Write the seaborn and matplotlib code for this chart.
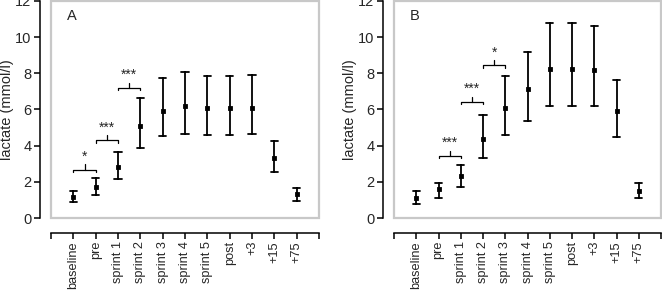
import numpy as np
import pandas as pd
import matplotlib
matplotlib.use('Agg')
import matplotlib.pyplot as plt
import seaborn as sns
from matplotlib.patches import Rectangle

sns.set_theme(style='white')
plt.rcParams['font.family'] = ['Liberation Sans', 'DejaVu Sans']

# --- data ---
timepoints = ['baseline', 'pre', 'sprint 1', 'sprint 2', 'sprint 3', 'sprint 4',
              'sprint 5', 'post', '+3', '+15', '+75']

a_mean = [1.17, 1.71, 2.84, 5.10, 5.91, 6.18, 6.06, 6.06, 6.11, 3.30, 1.30]
a_low = [0.88, 1.25, 2.13, 3.87, 4.55, 4.66, 4.60, 4.60, 4.66, 2.53, 0.95]
a_high = [1.52, 2.20, 3.67, 6.66, 7.72, 8.07, 7.85, 7.85, 7.93, 4.26, 1.67]

b_mean = [1.10, 1.58, 2.31, 4.37, 6.06, 7.12, 8.22, 8.22, 8.17, 5.91, 1.50]
b_low = [0.79, 1.12, 1.71, 3.32, 4.59, 5.39, 6.17, 6.17, 6.17, 4.48, 1.12]
b_high = [1.52, 1.94, 2.94, 5.72, 7.85, 9.19, 10.79, 10.79, 10.60, 7.65, 1.93]

# significance brackets: (left category, right category), bracket height, label
a_sig_pairs = [('baseline', 'pre'), ('pre', 'sprint 1'), ('sprint 1', 'sprint 2')]
a_sig_y = [2.68, 4.29, 7.21]
a_sig_text = ['*', '***', '***']

b_sig_pairs = [('pre', 'sprint 1'), ('sprint 1', 'sprint 2'), ('sprint 2', 'sprint 3')]
b_sig_y = [3.45, 6.42, 8.44]
b_sig_text = ['***', '***', '*']


def long_frame(mean, low, high):
    rows = []
    for t, m, lo, hi in zip(timepoints, mean, low, high):
        for v in (lo, m, hi):
            rows.append({'time': t, 'lactate': v})
    return pd.DataFrame(rows)


fig = plt.figure(figsize=(6.62, 2.9), dpi=100)
ax_a = fig.add_axes([51 / 662, 72 / 290, 268 / 662, 217 / 290])
ax_b = fig.add_axes([394 / 662, 72 / 290, 267 / 662, 217 / 290])

panels = [
    (ax_a, 'A', a_mean, a_low, a_high, a_sig_pairs, a_sig_y, a_sig_text),
    (ax_b, 'B', b_mean, b_low, b_high, b_sig_pairs, b_sig_y, b_sig_text),
]

for ax, tag, mean, low, high, pairs, sig_y, sig_text in panels:
    df = long_frame(mean, low, high)
    # median of (low, mean, high) is the mean, min-max interval gives the bar
    sns.pointplot(data=df, x='time', y='lactate', order=timepoints,
                  estimator='median', errorbar=('pi', 100), ax=ax,
                  color='black', marker='s', markersize=2, linestyle='none',
                  capsize=0.32, err_kws={'linewidth': 1.3})

    # brackets
    for (l, r), y, txt in zip(pairs, sig_y, sig_text):
        x0, x1 = timepoints.index(l), timepoints.index(r)
        xm = (x0 + x1) / 2
        ax.plot([x0, x0, x1, x1], [y - 0.12, y, y, y - 0.12], color='black', lw=0.9)
        ax.plot([xm, xm], [y, y + 0.28], color='black', lw=0.9)
        ax.text(xm, y + 0.33, txt, ha='center', va='bottom', fontsize=10)

    ax.set_xlim(-1, 11)
    ax.set_ylim(0, 12)
    ax.set_yticks(range(0, 13, 2))
    ax.set_xticks(range(len(timepoints)))
    ax.set_xticklabels(timepoints)
    ax.set_xlabel('')
    ax.set_ylabel('lactate (mmol/l)', fontsize=10.5, labelpad=1)

    # gray frame around the data area
    ax.add_patch(Rectangle((0, 0), 1, 1, transform=ax.transAxes, fill=False,
                           edgecolor='#c8c8c8', linewidth=1.6, clip_on=False, zorder=0))
    for side in ['top', 'right']:
        ax.spines[side].set_visible(False)
    ax.spines['left'].set_position(('outward', 8))
    ax.spines['left'].set_bounds(0, 12)
    ax.spines['bottom'].set_position(('outward', 11))
    ax.spines['bottom'].set_bounds(-1, 11)
    for side in ['left', 'bottom']:
        ax.spines[side].set_color('black')
        ax.spines[side].set_linewidth(1.1)

    ax.set_xticks([-1, 11], minor=True)
    ax.tick_params(axis='both', which='both', direction='out', length=4, width=1.1,
                   color='black', labelsize=10.5, pad=2, left=True, bottom=True)
    ax.tick_params(axis='x', which='major', labelrotation=90, labelsize=9.2, pad=1.5)

    ax.text(0.06, 0.93, tag, transform=ax.transAxes, fontsize=10.5, ha='left', va='center')

fig.savefig('out.png', dpi=100)
